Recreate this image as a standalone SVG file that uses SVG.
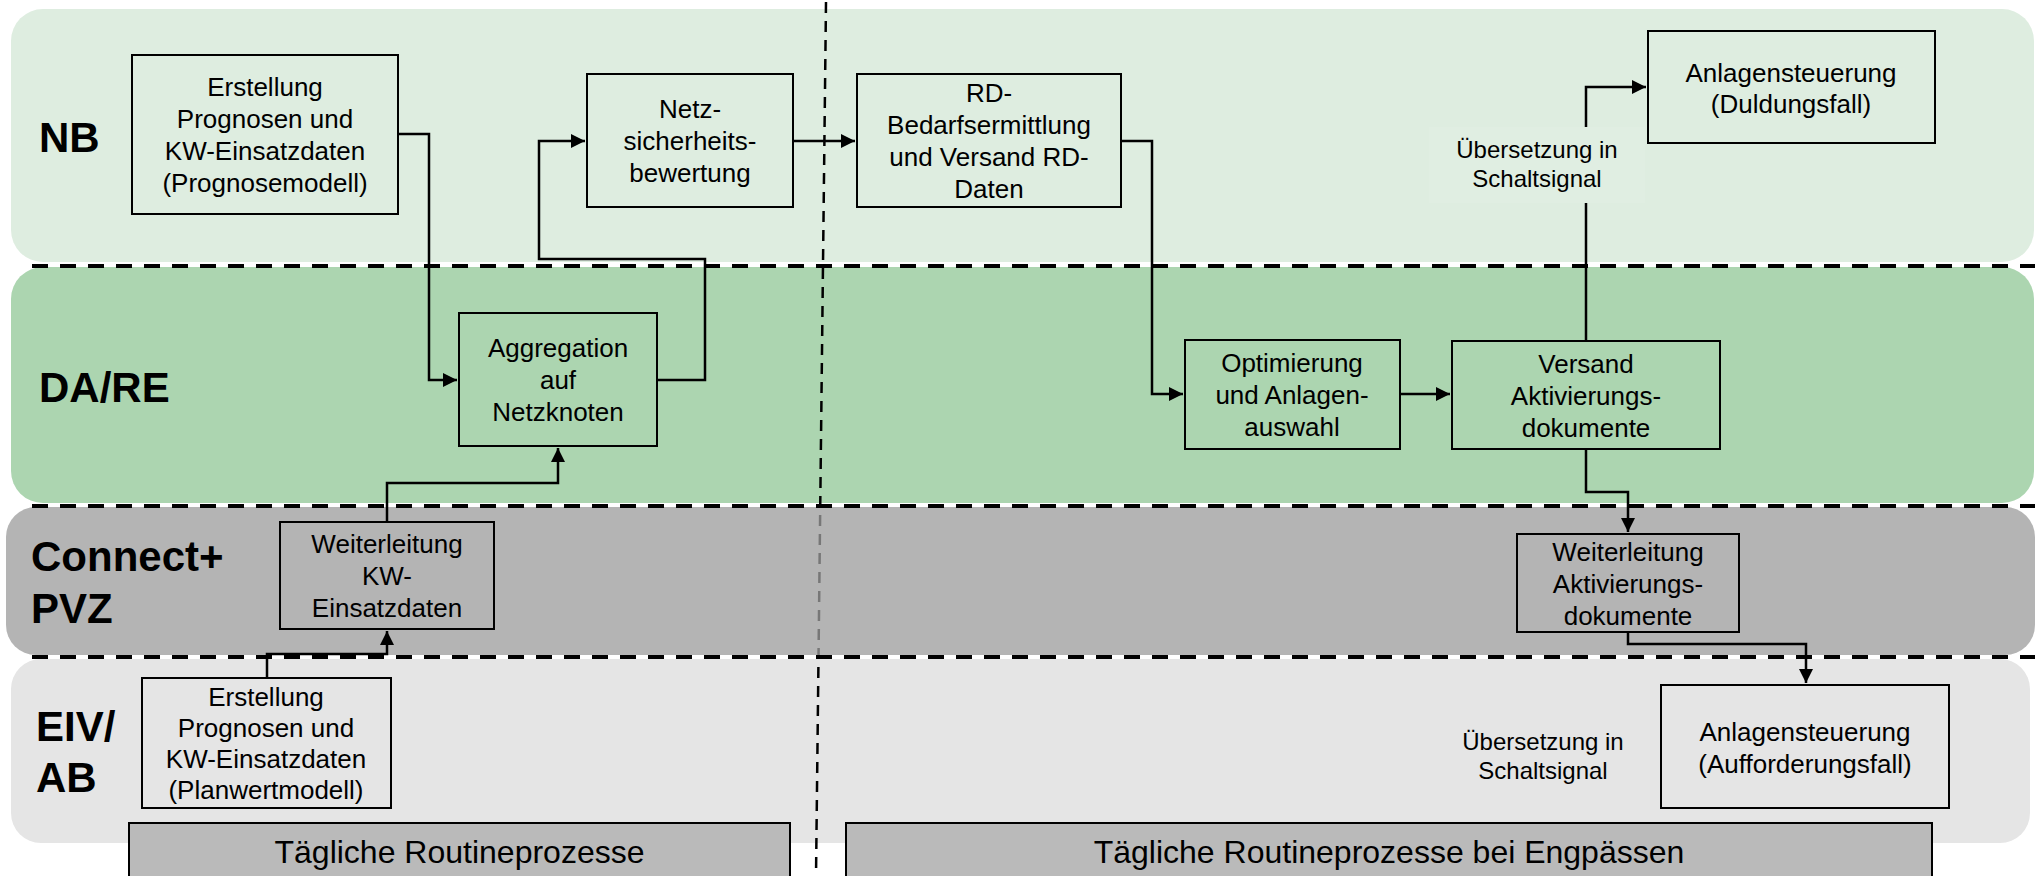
<svg xmlns="http://www.w3.org/2000/svg" width="2035" height="876" viewBox="0 0 2035 876">
<style>
.lbl{font-family:"Liberation Sans",Arial,sans-serif;font-weight:bold;font-size:42px;fill:#000}
.t{font-family:"Liberation Sans",Arial,sans-serif;font-size:26px;fill:#000;text-anchor:middle}
.s{font-family:"Liberation Sans",Arial,sans-serif;font-size:24px;fill:#000;text-anchor:middle}
.b{font-family:"Liberation Sans",Arial,sans-serif;font-size:32px;fill:#000;text-anchor:middle}
.box{fill:none;stroke:#000;stroke-width:2}
.con{fill:none;stroke:#000;stroke-width:2.5;stroke-linejoin:miter}
.hd{stroke:#000;stroke-width:4;stroke-dasharray:16 12;fill:none}
.vd{stroke:#000;stroke-width:2.5;stroke-dasharray:11 8;fill:none}
.ban{fill:#bababa;stroke:#000;stroke-width:2}
</style>
<defs>
<marker id="ah" markerUnits="userSpaceOnUse" markerWidth="16" markerHeight="16" refX="14" refY="7" orient="auto">
<path d="M0,0 L14,7 L0,14 z" fill="#000"/>
</marker>
</defs>
<rect width="2035" height="876" fill="#fff"/>
<g id="lanes">
<rect id="lane-nb" x="11" y="9" width="2023" height="253" rx="32" fill="#deede0"/>
<rect id="lane-da" x="11" y="267" width="2023" height="236" rx="32" fill="#acd5b0"/>
<rect id="lane-eiv" x="11" y="659" width="2019" height="184" rx="30" fill="#e5e5e5"/>
</g>
<path class="vd" d="M826,2 L816,876"/>
<rect id="lane-cp" x="6" y="507" width="2029" height="148" rx="30" fill="#9d9d9d" fill-opacity="0.76"/>
<g id="lane-lines">
<path class="hd" d="M32,266 H2035"/>
<path class="hd" d="M32,506 H2035"/>
<path class="hd" d="M32,657 H2035"/>
</g>
<g id="lane-labels">
<text class="lbl" x="39" y="152">NB</text>
<text class="lbl" x="39" y="402">DA/RE</text>
<text class="lbl" x="31" y="571">Connect+</text>
<text class="lbl" x="31" y="623">PVZ</text>
<text class="lbl" x="36" y="741">EIV/</text>
<text class="lbl" x="36" y="792">AB</text>
</g>
<g id="connectors">
<path class="con" d="M398,134 H429 V380 H457" marker-end="url(#ah)"/>
<path class="con" d="M657,380 H705 V259 H539 V141 H585" marker-end="url(#ah)"/>
<path class="con" d="M793,141 H855" marker-end="url(#ah)"/>
<path class="con" d="M1121,141 H1152 V394 H1183" marker-end="url(#ah)"/>
<path class="con" d="M1400,394 H1450" marker-end="url(#ah)"/>
<path class="con" d="M1586,341 V87 H1646" marker-end="url(#ah)"/>
<path class="con" d="M1586,449 V492 H1628 V532" marker-end="url(#ah)"/>
<path class="con" d="M1628,632 V644 H1806 V683" marker-end="url(#ah)"/>
<path class="con" d="M387,522 V483 H558 V448" marker-end="url(#ah)"/>
<path class="con" d="M267,678 V654 H387 V631" marker-end="url(#ah)"/>
</g>
<g id="n-erstellung-nb">
<rect class="box" x="132" y="55" width="266" height="159"/>
<text class="t" x="265" y="96">Erstellung</text>
<text class="t" x="265" y="128">Prognosen und</text>
<text class="t" x="265" y="160">KW-Einsatzdaten</text>
<text class="t" x="265" y="192">(Prognosemodell)</text>
</g>
<g id="n-netz">
<rect class="box" x="587" y="74" width="206" height="133"/>
<text class="t" x="690" y="118">Netz-</text>
<text class="t" x="690" y="150">sicherheits-</text>
<text class="t" x="690" y="182">bewertung</text>
</g>
<g id="n-rd">
<rect class="box" x="857" y="74" width="264" height="133"/>
<text class="t" x="989" y="102">RD-</text>
<text class="t" x="989" y="134">Bedarfsermittlung</text>
<text class="t" x="989" y="166">und Versand RD-</text>
<text class="t" x="989" y="198">Daten</text>
</g>
<g id="n-duldung">
<rect class="box" x="1648" y="31" width="287" height="112"/>
<text class="t" x="1791" y="82">Anlagensteuerung</text>
<text class="t" x="1791" y="113">(Duldungsfall)</text>
</g>
<g id="n-uebersetzung-nb">
<rect x="1429" y="127" width="216" height="76" fill="#e0eee2"/>
<text class="s" x="1537" y="158">Übersetzung in</text>
<text class="s" x="1537" y="187">Schaltsignal</text>
</g>
<g id="n-aggregation">
<rect class="box" x="459" y="313" width="198" height="133"/>
<text class="t" x="558" y="357">Aggregation</text>
<text class="t" x="558" y="389">auf</text>
<text class="t" x="558" y="421">Netzknoten</text>
</g>
<g id="n-optimierung">
<rect class="box" x="1185" y="340" width="215" height="109"/>
<text class="t" x="1292" y="372">Optimierung</text>
<text class="t" x="1292" y="404">und Anlagen-</text>
<text class="t" x="1292" y="436">auswahl</text>
</g>
<g id="n-versand">
<rect class="box" x="1452" y="341" width="268" height="108"/>
<text class="t" x="1586" y="373">Versand</text>
<text class="t" x="1586" y="405">Aktivierungs-</text>
<text class="t" x="1586" y="437">dokumente</text>
</g>
<g id="n-weiter-kw">
<rect class="box" x="280" y="522" width="214" height="107"/>
<text class="t" x="387" y="553">Weiterleitung</text>
<text class="t" x="387" y="585">KW-</text>
<text class="t" x="387" y="617">Einsatzdaten</text>
</g>
<g id="n-weiter-akt">
<rect class="box" x="1517" y="534" width="222" height="98"/>
<text class="t" x="1628" y="561">Weiterleitung</text>
<text class="t" x="1628" y="593">Aktivierungs-</text>
<text class="t" x="1628" y="625">dokumente</text>
</g>
<g id="n-erstellung-eiv">
<rect class="box" x="142" y="678" width="249" height="130"/>
<text class="t" x="266" y="706">Erstellung</text>
<text class="t" x="266" y="737">Prognosen und</text>
<text class="t" x="266" y="768">KW-Einsatzdaten</text>
<text class="t" x="266" y="799">(Planwertmodell)</text>
</g>
<g id="n-uebersetzung-eiv">
<text class="s" x="1543" y="750">Übersetzung in</text>
<text class="s" x="1543" y="779">Schaltsignal</text>
</g>
<g id="n-aufforderung">
<rect class="box" x="1661" y="685" width="288" height="123"/>
<text class="t" x="1805" y="741">Anlagensteuerung</text>
<text class="t" x="1805" y="773">(Aufforderungsfall)</text>
</g>
<g id="n-banner-routine">
<rect class="ban" x="129" y="823" width="661" height="70"/>
<text class="b" x="459.5" y="863">Tägliche Routineprozesse</text>
</g>
<g id="n-banner-engpass">
<rect class="ban" x="846" y="823" width="1086" height="70"/>
<text class="b" x="1389" y="863">Tägliche Routineprozesse bei Engpässen</text>
</g>
</svg>
